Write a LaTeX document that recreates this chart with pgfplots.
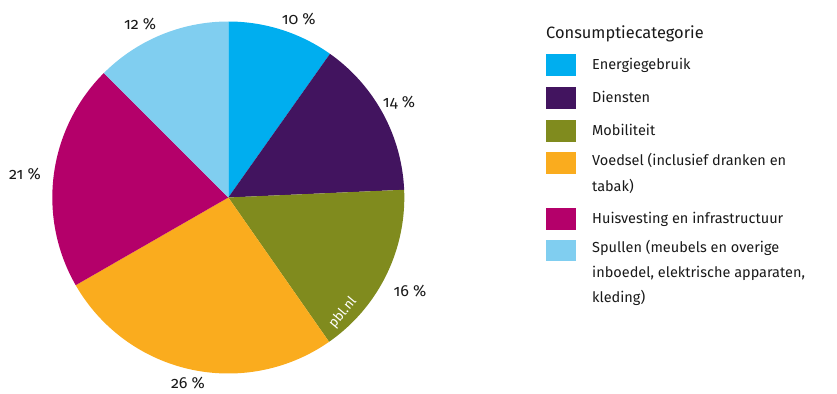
\documentclass[border=0pt]{standalone}
\usepackage{pgfplots}
\usepackage{pgfplotstable}
\pgfplotsset{compat=1.18}
\usepackage{fontspec}
\setmainfont{Fira Sans}[Numbers=OldStyle]
\definecolor{energie}{RGB}{0,174,239}
\definecolor{diensten}{RGB}{66,20,95}
\definecolor{mobiliteit}{RGB}{128,139,30}
\definecolor{voedsel}{RGB}{250,172,30}
\definecolor{huisvesting}{RGB}{180,0,106}
\definecolor{spullen}{RGB}{128,206,240}
\newcommand\labfont{\fontsize{16bp}{19bp}\selectfont}
\newcommand\legfont{\fontsize{14.5bp}{18bp}\selectfont}
\newcommand\titfont{\fontsize{16.4bp}{19bp}\selectfont}
\pgfplotstableread{
val col lx ly lab
9.8 energie 0.40 1.014 10
14.5 diensten 0.97 0.537 14
16.0 mobiliteit 1.032 -0.531 16
26.4 voedsel -0.229 -1.052 26
20.8 huisvesting -1.155 0.134 21
12.5 spullen -0.501 0.986 12
}\piedata
\pgfplotstablecreatecol[create col/expr accum={\pgfmathaccuma+\thisrow{val}}{0}]{cum}\piedata
\begin{document}
\begin{tikzpicture}[x=1bp,y=1bp]
\begin{axis}[at={(0,0)}, anchor=south west, scale only axis,
  width=837bp, height=393bp, hide axis,
  xmin=-1.2972, xmax=3.4585, ymin=-1.1108, ymax=1.1222, clip=false]
\pgfplotsforeachungrouped \i in {0,...,5}{%
  \pgfplotstablegetelem{\i}{cum}\of\piedata
  \pgfmathsetmacro\b{3.6*\pgfplotsretval}%
  \pgfplotstablegetelem{\i}{val}\of\piedata
  \pgfmathsetmacro\a{\b-3.6*\pgfplotsretval}%
  \pgfplotstablegetelem{\i}{col}\of\piedata
  \edef\c{\pgfplotsretval}%
  \pgfplotstablegetelem{\i}{lx}\of\piedata
  \edef\lx{\pgfplotsretval}%
  \pgfplotstablegetelem{\i}{ly}\of\piedata
  \edef\ly{\pgfplotsretval}%
  \pgfplotstablegetelem{\i}{lab}\of\piedata
  \edef\lab{\pgfplotsretval}%
  \edef\temp{\noexpand\addplot[draw=none, fill=\c, domain=\a:\b, samples=120] ({sin(x)},{cos(x)}) -- (axis cs:0,0) -- cycle;
    \noexpand\node[font=\noexpand\labfont, text=black!90] at (axis cs:\lx,\ly) {\lab\space\noexpand\%};}%
  \temp
}
\node[font=\fontsize{13.5bp}{15bp}\selectfont, text=white, rotate=50, inner sep=0] at (axis cs:0.651,-0.656) {pbl.nl};
\end{axis}
\begin{scope}[yshift=393bp, font=\legfont, text=black!90]
\node[anchor=base west, inner sep=0, font=\titfont] at (546,-39) {Consumptiecategorie};
\fill[energie] (546,-54) rectangle (576,-76);
\node[anchor=base west, inner sep=0] at (592,-70) {Energiegebruik};
\fill[diensten] (546,-87) rectangle (576,-109);
\node[anchor=base west, inner sep=0] at (592,-103) {Diensten};
\fill[mobiliteit] (546,-120) rectangle (576,-142);
\node[anchor=base west, inner sep=0] at (592,-136) {Mobiliteit};
\fill[voedsel] (546,-152) rectangle (576,-174);
\node[anchor=base west, inner sep=0] at (592,-166) {Voedsel (inclusief dranken en};
\node[anchor=base west, inner sep=0] at (592,-191.5) {tabak)};
\fill[huisvesting] (546,-208) rectangle (576,-230);
\node[anchor=base west, inner sep=0] at (592,-224) {Huisvesting en infrastructuur};
\fill[spullen] (546,-240) rectangle (576,-261);
\node[anchor=base west, inner sep=0] at (592,-253) {Spullen (meubels en overige};
\node[anchor=base west, inner sep=0] at (592,-278) {inboedel, elektrische apparaten,};
\node[anchor=base west, inner sep=0] at (592,-303) {kleding)};
\end{scope}
\pgfresetboundingbox
\useasboundingbox (0,0) rectangle (837,393);
\end{tikzpicture}
\end{document}
